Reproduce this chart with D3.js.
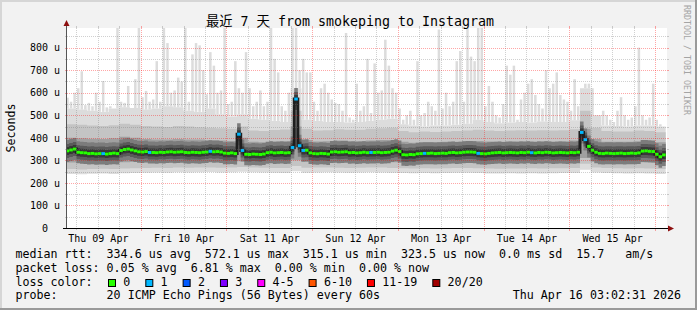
<!DOCTYPE html>
<html>
<head>
<meta charset="utf-8">
<script src="https://d3js.org/d3.v7.min.js"></script>
<style>
body { margin: 0; background: #f2f2f2; }
svg { display: block; }
text { font-family: "DejaVu Sans Mono", "Noto Sans CJK SC", monospace; fill: #000; white-space: pre; }
.tick text { font-family: "DejaVu Sans Mono", monospace; font-size: 10px; }
.legend { font-size: 11.65px; }
</style>
</head>
<body>
<script>
// ---- data (microseconds) ----
// median rtt, one value per hour starting Thu 09 Apr 03:00 UTC
var median = [
  342,346,350,336,334,333,330,331,329,330, 330,328,330,332,330,344,348,350,346,342,
  338,337,339,335,335,334,336,335,337,338, 336,337,338,335,334,336,335,334,336,337,
  340,338,339,337,332,331,333,330,416,344, 327,326,328,327,326,328,334,336,333,334,
  335,333,334,357,572,365,344,345,333,330, 329,331,330,328,337,338,336,337,338,334,
  335,333,334,336,334,335,335,336,334,335, 336,341,345,339,325,324,326,325,329,330,
  331,331,332,330,331,332,331,334,335,333, 334,336,337,337,336,331,330,329,331,333,
  334,335,333,334,335,334,333,335,334,336, 334,333,335,334,336,335,333,334,335,334,
  333,335,334,336,424,392,362,345,336,331, 330,332,331,330,331,332,330,331,332,331,
  333,341,342,340,339,327,316,324
];
// highest ping per hour (the light spikes)
var rttMax = [
  578,560,600,620,695,545,555,540,600,560, 652,535,540,530,887,560,555,630,520,660,
  887,580,608,560,570,740,560,887,820,600, 610,667,650,887,560,770,820,810,700,593,
  780,720,600,610,887,550,560,740,620,600, 780,620,540,560,610,540,560,
  887,750,690,540,520,600,887,887,700,750, 690,690,560,520,620,640,600,570,555,550,
  520,865,490,480,640,520,540,750,510,730, 600,610,835,720,620,600,530,480,500,520,
  480,740,500,510,560,540,520,880,530,600, 540,560,740,785,560,887,
  760,740,887,887,540,630,560,500,490,550, 720,680,720,480,570,600,640,660,590,550,
  530,700,620,640,690,590,570,560,520,660, 540,560,640,640,620,500,490,520,500,480,
  470,520,580,500,480,490,540,800,500,480, 490,640,480,460,450
];
// hours with lost pings: [hour index, pings lost of 20]
var lossHours = [[10,1],[23,1],[40,1],[48,1],[49,1],[63,1],[64,1],[65,1],[66,1],
                 [85,1],[100,1],[115,1],[130,1],[144,1],[145,1]];

// smoke bands, one value per 3 hours
var rttMin = [240,238,241,242,240,243,244,245,246,245, 247,246,247,248,246,247,249,247,246,245,
              244,252,245,246,247,246,245,246,247,246, 245,244,243,244,243,244,245,245,244,242,
              242,243,242,243,242,243,244,244,258,246, 244,243,242,243,242,240];
var rttLow = [262,260,262,263,262,264,265,266,267,266, 268,267,268,268,267,268,270,268,267,266,
              266,275,267,268,268,267,266,267,268,268, 266,265,264,265,264,265,266,266,265,264,
              263,264,264,265,264,265,265,266,285,268, 266,265,264,265,264,262];
var coreLow = [290,288,290,290,291,292,293,292,293,292, 294,293,294,293,292,293,296,292,291,292,
               292,300,293,294,294,293,293,293,294,294, 292,290,289,290,290,291,292,292,292,291,
               290,291,291,292,291,292,292,293,310,295, 292,291,291,292,291,289];
var coreHigh = [400,398,396,395,398,405,400,395,393,392, 395,393,392,390,388,386,400,382,380,385,
                386,450,390,384,385,388,386,386,388,390, 390,382,378,380,380,382,383,384,386,384,
                383,384,385,384,385,384,385,388,440,395, 383,382,382,385,384,380];
var rttHigh = [460,458,455,452,456,462,458,452,450,448, 452,450,447,445,442,440,450,432,430,435,
               437,520,440,432,434,438,436,436,440,442, 445,430,425,428,426,428,430,432,436,432,
               430,432,434,432,434,432,434,438,520,445, 430,428,428,432,430,425];
var rttBody = [530,525,520,515,530,535,532,525,530,540, 535,520,515,530,505,495,505,485,480,475,
               470,620,480,475,470,470,468,470,475,480, 485,460,455,450,455,455,458,462,480,470,
               465,468,470,468,472,470,470,478,620,500, 455,452,450,455,455,450];

var yTicks = [0,100,200,300,400,500,600,700,800];
var lossLabels = ["0","1","2","3","4-5","6-10","11-19","20/20"];
var lossColors = ["#26ff00","#00b8ff","#0059ff","#7e00ff","#ff00ff","#ff5500","#ff0000","#a10000"];
var legendLines = [
  "median rtt:  334.6 us avg  572.1 us max  315.1 us min  323.5 us now  0.0 ms sd  15.7   am/s",
  "packet loss: 0.05 % avg  6.81 % max  0.00 % min  0.00 % now",
  "loss color:",
  "probe:       20 ICMP Echo Pings (56 Bytes) every 60s"
];
var stamp = "Thu Apr 16 03:02:31 2026";
var title = "最近 7 天 from smokeping to Instagram";

// ---- layout ----
var W = 697, H = 310;
var plot = {left: 67, right: 667, top: 28, bottom: 228};
var HOUR = 3600e3;
var t0 = Date.UTC(2026, 3, 9, 3, 0);

var x = d3.scaleUtc()
  .domain([new Date(Date.UTC(2026,3,9,3,22)), new Date(Date.UTC(2026,3,16,3,22))])
  .range([plot.left, plot.right]);
var y = d3.scaleLinear().domain([0, 887]).range([plot.bottom, plot.top]);

var svg = d3.select("body").append("svg").attr("width", W).attr("height", H);

svg.append("rect").attr("width", W).attr("height", H).attr("fill", "#f2f2f2");
svg.append("rect").attr("width", W).attr("height", 2).attr("fill", "#d6d6d6");
svg.append("rect").attr("width", 2).attr("height", H).attr("fill", "#d6d6d6");
svg.append("rect").attr("y", H - 2).attr("width", W).attr("height", 2).attr("fill", "#9a9a9a");
svg.append("rect").attr("x", W - 2).attr("width", 2).attr("height", H).attr("fill", "#9a9a9a");

svg.append("defs").append("clipPath").attr("id", "clip")
  .append("rect").attr("x", plot.left).attr("y", plot.top)
  .attr("width", plot.right - plot.left).attr("height", plot.bottom - plot.top);

svg.append("rect").attr("x", plot.left).attr("y", plot.top)
  .attr("width", plot.right - plot.left).attr("height", plot.bottom - plot.top)
  .attr("fill", "#fff");

var g = svg.append("g").attr("clip-path", "url(#clip)");

// smoke bands
var bands = rttMin.map(function(v, k) {
  return {t: new Date(t0 + k*3*HOUR), min: v, low: rttLow[k], cLow: coreLow[k],
          cHigh: coreHigh[k], high: rttHigh[k], body: rttBody[k]};
});
bands.push(Object.assign({}, bands[bands.length-1], {t: new Date(t0 + bands.length*3*HOUR)}));

function band(lo, hi, color) {
  g.append("path").datum(bands).attr("fill", color)
    .attr("d", d3.area().curve(d3.curveStepAfter)
      .x(function(d) { return x(d.t); })
      .y0(function(d) { return y(d[lo]); })
      .y1(function(d) { return y(d[hi]); }));
}

var hourly = median.map(function(m, h) {
  return {t: new Date(t0 + h*HOUR), t1: new Date(t0 + (h+1)*HOUR), med: m,
          max: rttMax[h], body: rttBody[Math.floor(h/3)], loss: 0};
});
lossHours.forEach(function(p) { hourly[p[0]].loss = p[1]; });

band("min", "body", "#dcdcdc");
g.selectAll(".spike").data(hourly.filter(function(d) { return d.max > d.body; }))
  .enter().append("rect").attr("class", "spike")
  .attr("x", function(d) { return (x(d.t) + x(d.t1)) / 2 - 1.25; })
  .attr("width", 2.5)
  .attr("y", function(d) { return y(d.max); })
  .attr("height", function(d) { return y(d.body) - y(d.max); })
  .attr("fill", "#dcdcdc");
band("low", "high", "#c4c4c4");
band("cLow", "cHigh", "#a0a0a0");

// dark core around the median
var medSteps = hourly.concat([Object.assign({}, hourly[hourly.length-1], {t: new Date(t0 + hourly.length*HOUR)})]);
function halo(px, color) {
  g.append("path").datum(medSteps).attr("fill", color)
    .attr("d", d3.area().curve(d3.curveStepAfter)
      .x(function(d) { return x(d.t); })
      .y0(function(d) { return y(d.med) + px; })
      .y1(function(d) { return y(d.med) - px; }));
}
halo(11, "#7c7c7c");
halo(7, "#5a5a5a");
halo(4, "#383838");
g.append("path").datum(medSteps).attr("fill", "none").attr("stroke", "#1e1e1e").attr("stroke-width", 3)
  .attr("d", d3.line().curve(d3.curveStepAfter)
    .x(function(d) { return x(d.t); }).y(function(d) { return y(d.med); }));

function lossColor(n) {
  var idx = n === 0 ? 0 : n === 1 ? 1 : n === 2 ? 2 : n === 3 ? 3 : n <= 5 ? 4 : n <= 10 ? 5 : n < 20 ? 6 : 7;
  return lossColors[idx];
}
g.selectAll(".med").data(hourly).enter().append("rect").attr("class", "med")
  .attr("x", function(d) { return x(d.t); })
  .attr("width", function(d) { return x(d.t1) - x(d.t); })
  .attr("y", function(d) { return y(d.med) - 1.5; })
  .attr("height", 3)
  .attr("fill", function(d) { return lossColor(d.loss); });

// grid on top
var grid = svg.append("g");
var minorY = d3.range(50, 887, 100), majorY = d3.range(100, 887, 100);
var days = d3.utcDay.range(x.domain()[0], x.domain()[1]);
var sixH = d3.utcHour.every(6).range(x.domain()[0], x.domain()[1])
  .filter(function(d) { return d.getUTCHours() !== 0; });

function hLines(vals, color) {
  grid.selectAll(null).data(vals).enter().append("line")
    .attr("x1", plot.left).attr("x2", plot.right)
    .attr("y1", function(d) { return Math.round(y(d)) + 0.5; })
    .attr("y2", function(d) { return Math.round(y(d)) + 0.5; })
    .attr("stroke", color).attr("stroke-dasharray", "1,1");
  grid.selectAll(null).data(vals).enter().append("path")
    .attr("d", function(d) { var yy = Math.round(y(d)) + 0.5;
      return "M" + (plot.left - 2) + "," + yy + "h2M" + plot.right + "," + yy + "h2"; })
    .attr("stroke", color);
}
function vLines(vals, color, tick) {
  grid.selectAll(null).data(vals).enter().append("line")
    .attr("x1", function(d) { return Math.round(x(d)) + 0.5; })
    .attr("x2", function(d) { return Math.round(x(d)) + 0.5; })
    .attr("y1", plot.top).attr("y2", plot.bottom)
    .attr("stroke", color).attr("stroke-dasharray", "1,1");
  grid.selectAll(null).data(vals).enter().append("path")
    .attr("d", function(d) { var xx = Math.round(x(d)) + 0.5;
      return "M" + xx + "," + (plot.top - 2) + "v2M" + xx + "," + plot.bottom + "v" + tick; })
    .attr("stroke", color);
}
hLines(minorY, "rgba(120,120,120,0.35)");
vLines(sixH, "rgba(120,120,120,0.35)", 2);
hLines(majorY, "rgba(255,0,0,0.35)");
vLines(days, "rgba(255,0,0,0.35)", 3);

// axes
var noons = d3.utcHour.every(12).range(x.domain()[0], x.domain()[1])
  .filter(function(d) { return d.getUTCHours() === 12; });

var xAxis = svg.append("g").attr("transform", "translate(0," + plot.bottom + ")")
  .call(d3.axisBottom(x).tickValues(noons).tickFormat(d3.utcFormat("%a %d %b")).tickSize(0).tickPadding(6.5));
xAxis.select(".domain").remove();

var yAxis = svg.append("g").attr("transform", "translate(" + plot.left + ",0)")
  .call(d3.axisLeft(y).tickValues(yTicks)
    .tickFormat(function(d) { return d === 0 ? "0\u00a0\u00a0" : d + " u"; })
    .tickSize(0).tickPadding(7));
yAxis.select(".domain").remove();

svg.append("line").attr("x1", plot.left - 0.5).attr("x2", plot.left - 0.5)
  .attr("y1", plot.bottom).attr("y2", plot.top - 6).attr("stroke", "#555");
svg.append("line").attr("x1", plot.left - 4).attr("x2", plot.right + 2)
  .attr("y1", plot.bottom + 0.5).attr("y2", plot.bottom + 0.5).attr("stroke", "#000");
svg.append("path").attr("fill", "#8e1010")
  .attr("d", "M" + (plot.left - 3.5) + "," + (plot.top - 2) + "l3,-6l3,6z");
svg.append("path").attr("fill", "#8e1010")
  .attr("d", "M" + (plot.right + 1) + "," + (plot.bottom - 2.5) + "l6,3l-6,3z");

// titles
svg.append("text").attr("x", W / 2 + 1.5).attr("y", 26).attr("text-anchor", "middle")
  .style("font-size", "13.3px").text(title);
svg.append("text").attr("transform", "translate(15,128) rotate(-90)").attr("text-anchor", "middle")
  .attr("class", "legend").text("Seconds");
svg.append("text").attr("transform", "translate(684,5) rotate(90)")
  .style("font-size", "8.3px").style("fill", "#a4a4a4").text("RRDTOOL / TOBI OETIKER");

// legend
var lineY = [258.3, 271.8, 285.6, 299.2];
svg.selectAll(".legline").data(legendLines).enter().append("text").attr("class", "legend")
  .attr("x", 15.5).attr("y", function(d, i) { return lineY[i]; }).text(function(d) { return d; });
svg.append("text").attr("class", "legend").attr("x", 681).attr("y", lineY[3])
  .attr("text-anchor", "end").text(stamp);

var adv = 11.65 * 0.602, bx = 108.5;
lossLabels.forEach(function(lab, i) {
  svg.append("rect").attr("x", bx).attr("y", 279.5).attr("width", 7).attr("height", 7)
    .attr("fill", lossColors[i]).attr("stroke", "#000");
  svg.append("text").attr("class", "legend").attr("x", bx + 14.8).attr("y", lineY[2]).text(lab);
  bx += 14.8 + lab.length * adv + 15.5;
});
</script>
</body>
</html>
